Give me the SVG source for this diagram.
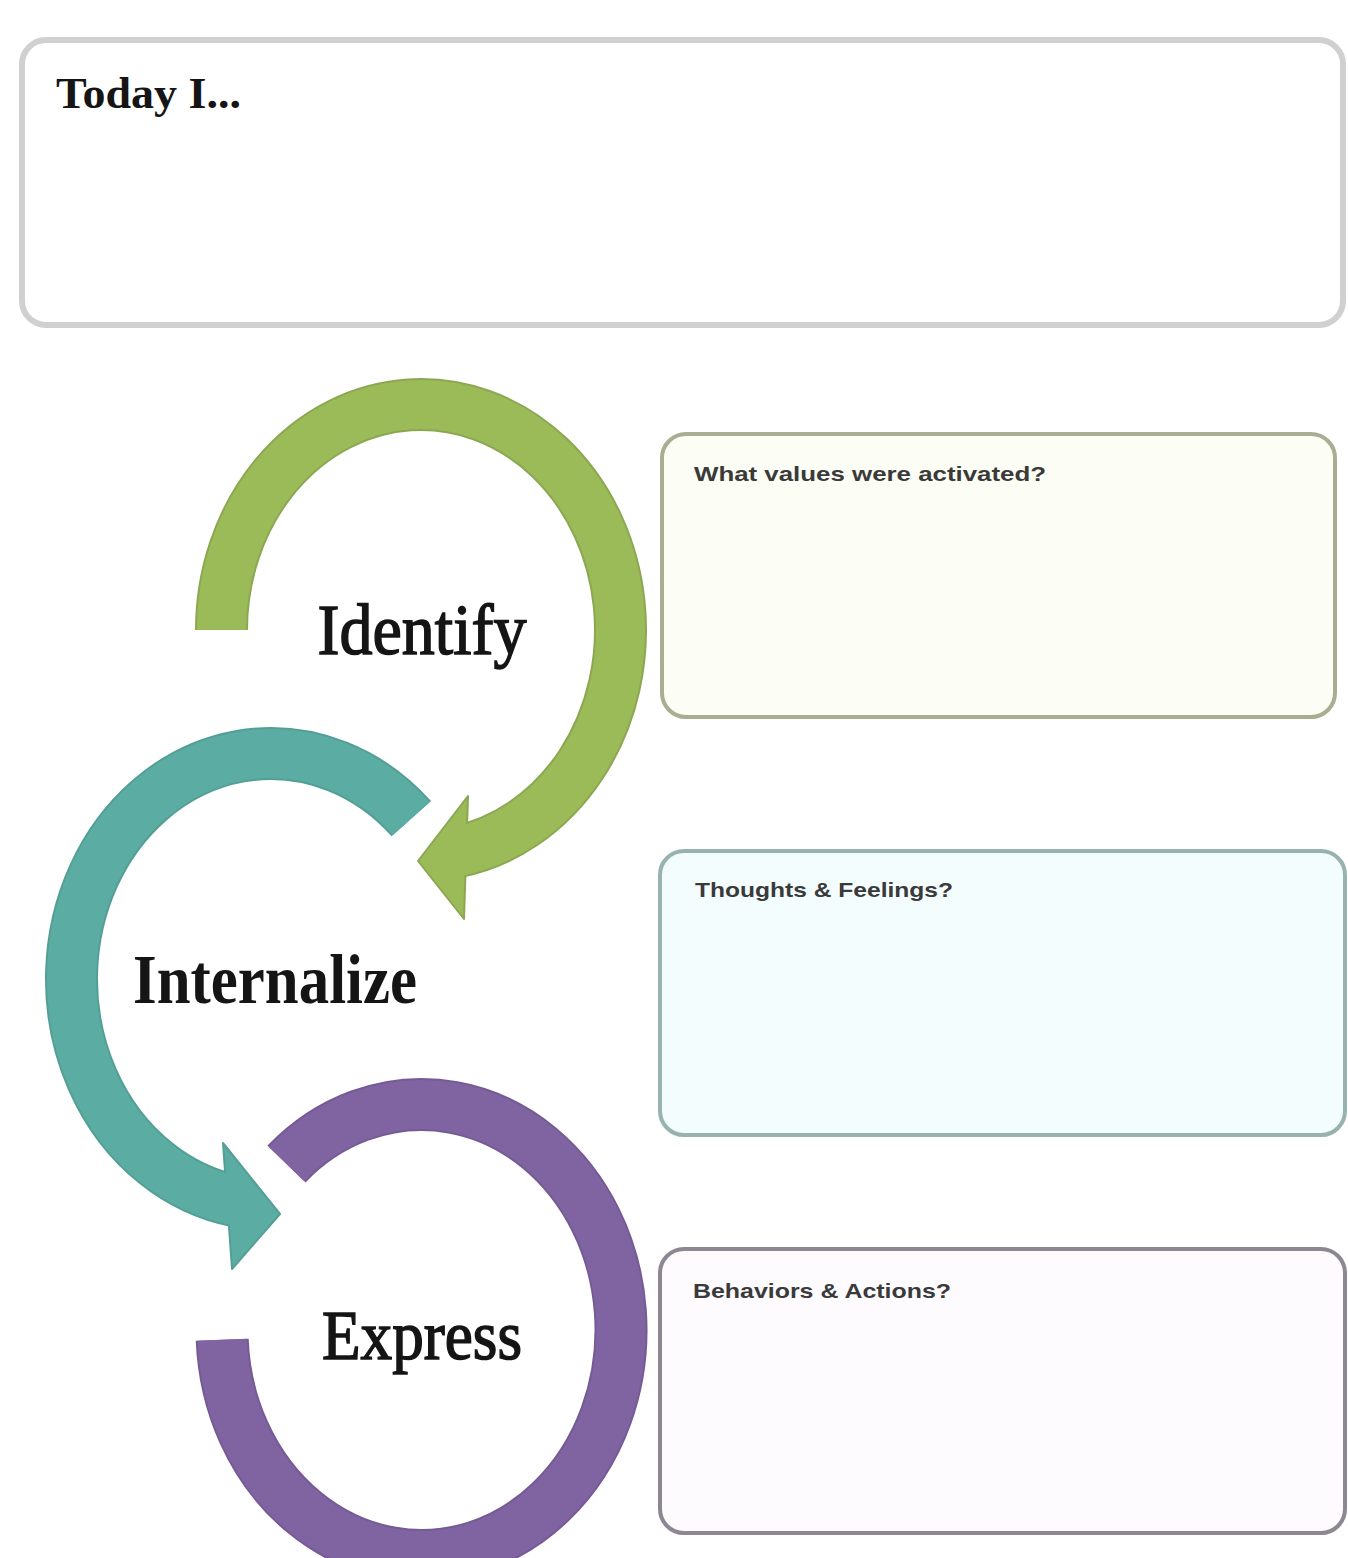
<svg xmlns="http://www.w3.org/2000/svg" width="1348" height="1558" viewBox="0 0 1348 1558">
  <style>
    .box { stroke-width: 4; }
    .ring { fill: none; stroke-width: 53; stroke-linecap: butt; }
    .core { fill: none; stroke-width: 49; stroke-linecap: butt; }
    .head { stroke-width: 2; stroke-linejoin: round; }
    .big { font-family: "Liberation Serif", "Times New Roman", serif; fill: #151515; }
    .thick { stroke: #151515; stroke-width: 1.4; }
    .small { font-family: "Liberation Sans", Arial, sans-serif; font-weight: bold; font-size: 19px; fill: #3a3a3a; }
  </style>
  <rect width="1348" height="1558" fill="#ffffff"/>

  <!-- Journal header panel -->
  <g id="today">
    <rect x="22" y="40" width="1321" height="285" rx="24" fill="#ffffff" stroke="#d0d0d0" stroke-width="6"/>
    <text class="big" font-weight="bold" font-size="41" text-anchor="start" textLength="185" lengthAdjust="spacingAndGlyphs" transform="translate(56,108) scale(1,1.1)">Today I...</text>
  </g>

  <!-- Cycle arrows: darker rim, then head, then body colour on top -->
  <g id="connectors">
    <path class="ring" stroke="#8ca752" d="M221.5,630 A199.5,225.5 0 1 1 455.6,852.1"/>
    <polygon class="head" fill="#9bbb59" stroke="#8ca752" points="468,796 418,861 464,919"/>
    <path class="core" stroke="#9bbb59" d="M221.5,630 A199.5,225.5 0 1 1 455.6,852.1"/>

    <path class="ring" stroke="#539f96" d="M411.3,818.7 A199.5,225.5 0 1 0 236.4,1201.1"/>
    <polygon class="head" fill="#5bada3" stroke="#539f96" points="223,1143 280,1214 232,1269"/>
    <path class="core" stroke="#5bada3" d="M411.3,818.7 A199.5,225.5 0 1 0 236.4,1201.1"/>

    <path class="ring" stroke="#755b95" d="M286.5,1164 A199.5,225.5 0 1 1 222.2,1339.8"/>
    <path class="core" stroke="#8064a2" d="M286.5,1164 A199.5,225.5 0 1 1 222.2,1339.8"/>
  </g>

  <g id="identify">
    <text class="big thick" font-size="66" text-anchor="middle" textLength="209" lengthAdjust="spacingAndGlyphs" transform="translate(422,654) scale(1,1.1)">Identify</text>
  </g>
  <g id="internalize">
    <text class="big" font-weight="bold" font-size="63" text-anchor="middle" textLength="284" lengthAdjust="spacingAndGlyphs" transform="translate(275,1003) scale(1,1.1)">Internalize</text>
  </g>
  <g id="express">
    <text class="big thick" font-size="64" text-anchor="middle" textLength="200" lengthAdjust="spacingAndGlyphs" transform="translate(422,1359) scale(1,1.1)">Express</text>
  </g>

  <!-- Reflection panels -->
  <g id="values">
    <rect class="box" x="662" y="434" width="673" height="283" rx="24" fill="#fcfef6" stroke="#a9ae93"/>
    <text class="small" textLength="352" lengthAdjust="spacingAndGlyphs" transform="translate(694,481) scale(1,1.05)">What values were activated?</text>
  </g>
  <g id="thoughts">
    <rect class="box" x="660" y="851" width="685" height="284" rx="24" fill="#f4fdfd" stroke="#98b3ad"/>
    <text class="small" textLength="258" lengthAdjust="spacingAndGlyphs" transform="translate(695,897) scale(1,1.05)">Thoughts &amp; Feelings?</text>
  </g>
  <g id="behaviors">
    <rect class="box" x="660" y="1249" width="685" height="284" rx="24" fill="#fdfbfe" stroke="#8c8792"/>
    <text class="small" textLength="258" lengthAdjust="spacingAndGlyphs" transform="translate(693,1298) scale(1,1.05)">Behaviors &amp; Actions?</text>
  </g>
</svg>
